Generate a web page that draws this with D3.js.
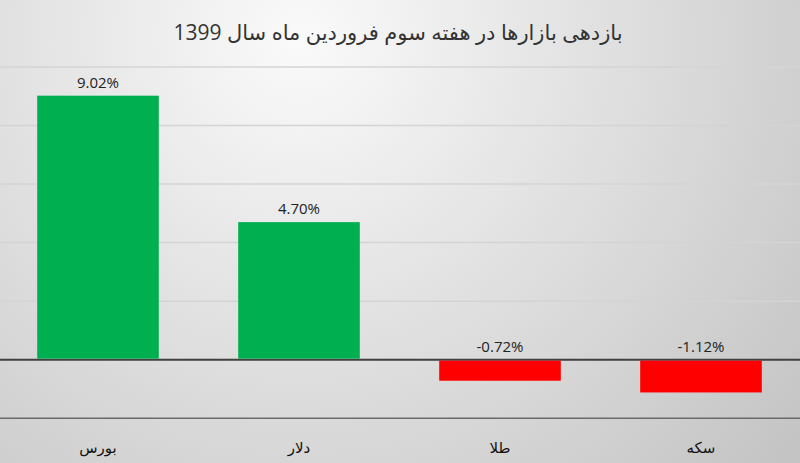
<!DOCTYPE html>
<html><head><meta charset="utf-8">
<script src="https://cdn.jsdelivr.net/npm/d3@7"></script>
<style>html,body{margin:0;padding:0;overflow:hidden}svg{display:block}</style>
</head><body>
<svg id="c" width="800" height="463"></svg>
<script>
const title = "بازدهی بازارها در هفته سوم فروردین ماه سال 1399";
const categories = ["بورس", "دلار", "طلا", "سکه"];
const values = [9.02, 4.70, -0.72, -1.12];
const yTicks = [-2, 0, 2, 4, 6, 8, 10];

const W = 800, H = 463;
const svg = d3.select("#c");
const defs = svg.append("defs");
const grad = defs.append("radialGradient").attr("id", "bg")
  .attr("gradientUnits", "userSpaceOnUse")
  .attr("cx", 300).attr("cy", 40).attr("r", 640);
grad.append("stop").attr("offset", "0%").attr("stop-color", "#fafafa");
grad.append("stop").attr("offset", "100%").attr("stop-color", "#c4c4c4");
svg.append("rect").attr("width", W).attr("height", H).attr("fill", "url(#bg)");

const font = "'Segoe UI','Open Sans','DejaVu Sans',sans-serif";

const x = d3.scaleBand().domain(categories).range([-2.5, 801.5]).paddingInner(0.395).paddingOuter(0.1975);
const y = d3.scaleLinear().domain([-2, 10]).range([418.2, 67]);

// gridlines
svg.append("g").selectAll("line").data(yTicks).join("line")
  .attr("x1", 0).attr("x2", W)
  .attr("y1", d => y(d)).attr("y2", d => y(d))
  .attr("stroke", d => d === 0 ? "#404040" : (d === -2 ? "#6a6a6a" : "#d4d4d4"))
  .attr("stroke-width", d => d === 0 ? 2 : 1.5);

// bars
svg.append("g").selectAll("rect").data(values).join("rect")
  .attr("x", (d, i) => x(categories[i]))
  .attr("width", x.bandwidth())
  .attr("y", d => d >= 0 ? y(d) : y(0) + 1)
  .attr("height", d => Math.abs(y(d) - y(0)) - 1)
  .attr("fill", d => d >= 0 ? "#00b050" : "#ff0000");

// value labels
svg.append("g").selectAll("text").data(values).join("text")
  .attr("x", (d, i) => x(categories[i]) + x.bandwidth() / 2)
  .attr("y", d => (d >= 0 ? y(d) : y(0)) - 8)
  .attr("text-anchor", "middle")
  .attr("font-family", font).attr("font-size", 15).attr("fill", "#222")
  .text(d => d.toFixed(2) + "%");

// category labels
svg.append("g").selectAll("text").data(categories).join("text")
  .attr("x", d => x(d) + x.bandwidth() / 2)
  .attr("y", 453)
  .attr("text-anchor", "middle")
  .attr("font-family", font).attr("font-size", 15).attr("fill", "#111")
  .text(d => d);

// title
svg.append("text").attr("x", 398).attr("y", 40)
  .attr("text-anchor", "middle")
  .attr("font-family", font).attr("font-size", 21).attr("fill", "#333")
  .text(title);
</script>
</body></html>
